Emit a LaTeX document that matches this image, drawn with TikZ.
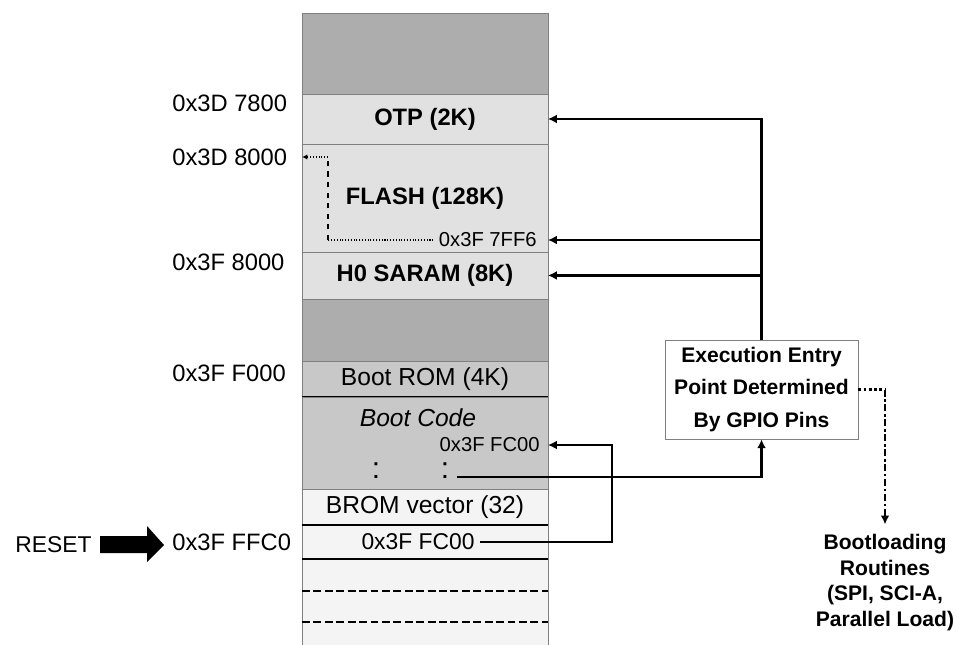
\documentclass[tikz,border=0pt]{standalone}
\usepackage{fontspec}
\setmainfont{Liberation Sans}
\usetikzlibrary{positioning,arrows.meta}

\definecolor{memdark}{HTML}{ADADAD}
\definecolor{memlight}{HTML}{E1E1E1}
\definecolor{memmid}{HTML}{C8C8C8}
\definecolor{mempale}{HTML}{F4F4F4}
\definecolor{memline}{HTML}{808080}

\begin{document}
\begin{tikzpicture}[
	x=0.02cm,y=-0.02cm,
	blk/.style={
		draw=memline,
		fill=memlight,
		minimum width=4.92cm,
		inner sep=0pt,
		outer sep=0pt,
		font=\bfseries\fontsize{13.5}{15}\selectfont
	},
	addr/.style={anchor=west,inner sep=0pt,font=\fontsize{13.5}{15}\selectfont},
	smalltxt/.style={inner sep=0pt,font=\fontsize{11.5}{13}\selectfont},
	colon/.style={inner sep=0pt,font=\fontsize{17}{19}\selectfont},
	arrow/.style={-{Latex[length=5pt,width=5pt]},line width=1.2pt},
	divline/.style={line width=0.8pt},
	thinline/.style={line width=0.6pt}
	]
	\useasboundingbox (0,0) rectangle (957,645);
	
	% memory map
	\node[blk,fill=memdark,minimum height=1.62cm,anchor=north] (top) at (425,13) {};
	\node[blk,minimum height=1cm,below=0pt of top] (otp) {OTP (2K)};
	\node[blk,minimum height=2.16cm,below=0pt of otp] (flash) {FLASH (128K)};
	\node[blk,minimum height=0.94cm,below=0pt of flash] (h0) {H0 SARAM (8K)};
	\node[blk,fill=memdark,minimum height=1.24cm,below=0pt of h0] (gap) {};
	\node[blk,fill=memmid,minimum height=0.72cm,below=0pt of gap,font=\fontsize{14}{16}\selectfont] (brom) {Boot ROM (4K)};
	\node[blk,fill=memmid,minimum height=1.84cm,below=0pt of brom] (bcode) {};
	\node[blk,fill=mempale,minimum height=0.72cm,below=0pt of bcode,font=\fontsize{14}{16}\selectfont] (bvec) {BROM vector (32)};
	\node[blk,fill=mempale,minimum height=0.68cm,below=0pt of bvec] (rvec) {};
	\node[blk,fill=mempale,draw=none,minimum height=1.72cm,below=0pt of rvec] (rest) {};
	
	\draw[memline] (rest.north west) -- (rest.south west) (rest.north east) -- (rest.south east);
	\draw[thinline] (brom.south west) -- (brom.south east);
	\draw[divline] (bvec.south west) -- (bvec.south east);
	\draw[divline] (rvec.south west) -- (rvec.south east);
	\draw[divline,dash pattern=on 4.5pt off 2pt] (302,591) -- (548,591);
	\draw[divline,dash pattern=on 4.5pt off 2pt] (302,622) -- (548,622);
	
	\node[inner sep=0pt,font=\itshape\fontsize{14}{16}\selectfont] (bctitle) at (418,418) {Boot Code};
	\node[smalltxt,anchor=east] (fc00) at (540,445) {0x3F FC00};
	\node[colon] (dotL) at (376,471) {:};
	\node[colon] (dotR) at (445,471) {:};
	\node[inner sep=0pt,font=\fontsize{13}{15}\selectfont] (vtxt) at (418,542) {0x3F FC00};
	\node[smalltxt,anchor=east] (f7ff6) at (537,240) {0x3F 7FF6};
	
	% addresses
	\node[addr] (a7800) at (172,103) {0x3D 7800};
	\node[addr] (a8000) at (172,157) {0x3D 8000};
	\node[addr] (af8000) at (172,262) {0x3F 8000};
	\node[addr] (af000) at (172,373) {0x3F F000};
	\node[addr] (affc0) at (172,542) {0x3F FFC0};
	
	\node[addr,font=\fontsize{13}{15}\selectfont] (rst) at (15,545) {RESET};
	\fill (100,536) -- (147,536) -- (147,526) -- (164,545) -- (147,562) -- (147,553) -- (100,553) -- cycle;
	
	% entry point selection
	\node[draw=memline,fill=white,minimum width=3.86cm,minimum height=1.98cm,align=center,
	font=\bfseries\fontsize{12}{18.4}\selectfont] (ee) at (761.5,389.5)
	{Execution Entry\\ Point Determined\\ By GPIO Pins};
	
	\node[inner sep=0pt,anchor=north,align=center,font=\bfseries\fontsize{12}{14.6}\selectfont] (bl) at (885,534)
	{Bootloading\\ Routines\\ (SPI, SCI-A,\\ Parallel Load)};
	
	\draw[arrow] (ee.north) |- (otp.east);
	\draw[arrow] (ee.north) |- (flash.east |- f7ff6.east);
	\draw[arrow] (ee.north) |- (h0.east);
	\draw[arrow] ([xshift=4pt,yshift=1pt]dotR.base east) -| (ee.south);
	
	\coordinate (jmp) at (612,445);
	\draw[arrow] ([xshift=3pt]vtxt.east) -| (jmp) -- (bcode.east |- jmp);
	
	\coordinate (fbend) at (328,157);
	\draw[thinline,densely dotted] ([xshift=-3pt]f7ff6.west) -- (f7ff6.west -| fbend);
	\draw[thinline,dashed] (f7ff6.west -| fbend) -- (fbend);
	\draw[thinline,densely dotted,-{Latex[length=3pt,width=3pt]}] (fbend) -- (flash.west |- fbend);
	
	\draw[line width=1.5pt,dash pattern=on 1.5pt off 1.5pt] (ee.east) -- (ee.east -| bl.north);
	\draw[line width=1.5pt,dash pattern=on 4pt off 1.5pt on 1.5pt off 1.5pt,-{Latex[length=5pt,width=5pt]}]
	(ee.east -| bl.north) -- ([yshift=5.5pt]bl.north);
	
\end{tikzpicture}
\end{document}
